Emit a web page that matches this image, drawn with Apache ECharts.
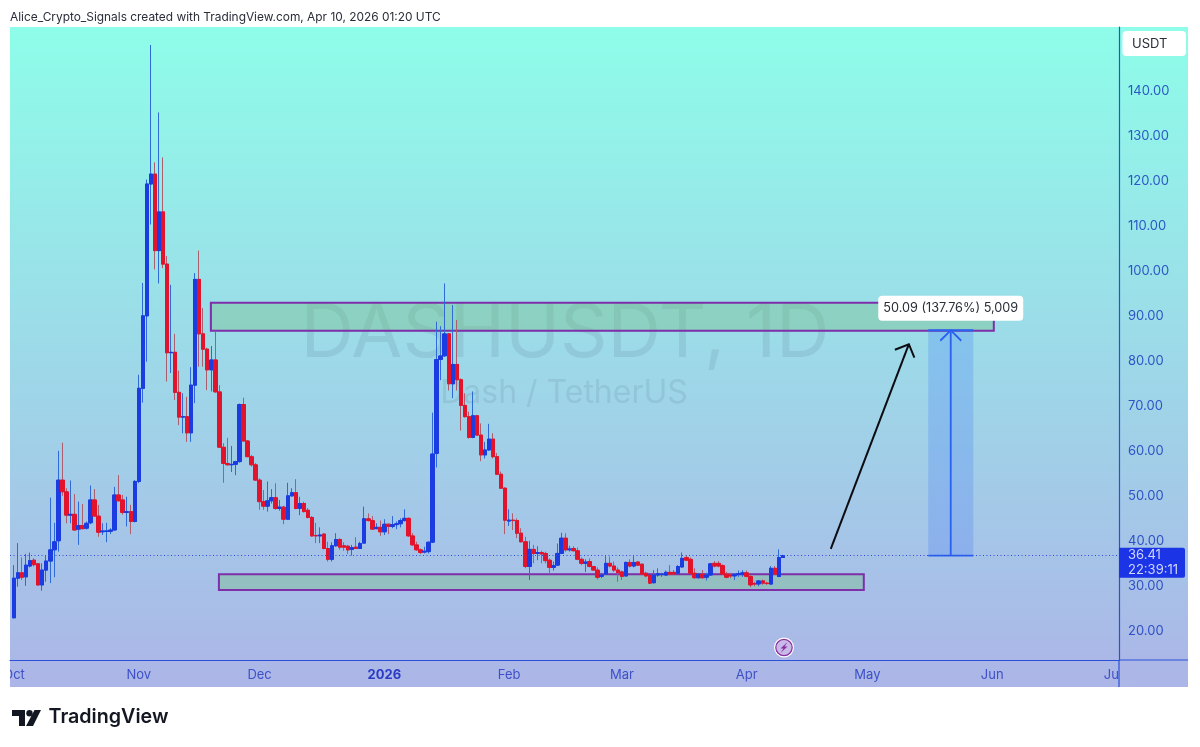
<!DOCTYPE html>
<html>
<head>
<meta charset="utf-8">
<title>DASHUSDT, 1D</title>
<style>
  html, body { margin: 0; padding: 0; background: #fff; }
  #chart { width: 1200px; height: 747px; }
</style>
</head>
<body>
<div id="chart"></div>
<script src="https://cdn.jsdelivr.net/npm/echarts@6/dist/echarts.min.js"></script>
<script>
// daily candles, day 0 = Oct 1 2025, last one = Apr 10 2026
const opens = [
  22.6,31.4,32.6,31.7,34.1,35.4,34.6,29.9,33.2,35.2,
  37.7,39.7,53.2,50.6,45.4,45.6,42.3,43.1,42.5,43.7,
  48.8,45.2,41.7,41.8,41.8,42.1,49.9,48.8,46,46.2,
  44,52.9,73.6,89.7,119,121.2,104.2,112.8,101.2,81.5,
  81.6,72.7,67.2,67.3,63.7,74.3,97.8,85.7,82.3,77.7,
  79.9,72.8,60.5,56.9,56.6,56.7,57.3,70,61.9,58.4,
  56.6,53.2,48.4,47.4,48.6,49.3,46.9,47.2,44.5,49.7,
  50.4,46.9,48,46.5,44.9,40.9,40.8,41.2,38,35.6,
  38.6,40,38.6,38.5,37.8,38.3,38,39.2,44.6,44.2,
  42.4,42.7,41.7,43.4,42.9,43.3,43.5,44.2,44.7,40.8,
  38.8,37.7,37.2,37.3,39.4,59.1,80,80.8,85.7,74.6,
  78.9,75.5,69.8,67.3,62.7,67.5,63.2,58.8,59.9,62.3,
  58.4,54.5,51.4,44.1,44.3,44.2,41.4,39.5,34,37.8,
  36.9,37.1,36.9,35.4,33.8,34.3,36.9,40.3,37.7,38,
  37.5,35.6,34.7,35.1,34,33.2,31.8,32.3,34.7,34.1,
  33.2,32.8,31.9,34.9,34.1,35,34.5,32.5,32,30.4,
  32.1,32.2,32.1,32.7,32.7,32.5,33.9,36,35.6,32.5,
  31.5,32.3,31.6,32.1,34.7,34.7,34.2,32.3,32.1,31.9,
  32.2,32.2,32.6,31.8,30.2,30.1,30.8,30.3,30.1,33.6,
  31.8,36
]
const closes = [
  31.4,32.6,31.6,34.3,35.3,34.4,29.9,33.2,35.2,37.7,
  39.5,53.2,50.6,45.4,45.6,42.1,43.1,42.4,43.6,48.8,
  45.2,41.6,41.9,41.9,42.1,49.9,48.6,46,46.2,44,
  52.9,73.6,89.7,119,121.2,104.2,112.8,101.2,81.5,81.6,
  72.7,67.2,67.3,63.7,74.3,97.8,85.7,82.3,77.7,79.9,
  72.8,60.5,56.9,56.6,56.7,57.3,70,61.9,58.4,56.6,
  53.2,48.4,47.4,48.6,49.3,46.9,47.2,44.5,49.7,50.4,
  46.9,48,46.2,44.9,40.8,40.8,41,38,35.6,38.6,
  40,38.3,38.3,37.7,38.2,38,39.1,44.6,44.2,42.3,
  42.7,41.7,43.4,42.9,43.3,43.5,44.2,44.7,40.8,38.8,
  37.7,37.1,37.4,39.4,59,80,80.8,85.7,74.6,78.9,
  75.5,69.8,67.3,62.7,67.5,63.2,58.8,59.9,62.3,58.4,
  54.5,51.4,44.3,44.3,44.2,41.4,39.5,34,37.8,36.9,
  37.1,36.8,35.3,33.8,34.2,36.9,40.3,37.7,37.9,37.5,
  35.6,34.7,35,34,33.2,31.6,32.1,34.7,34.1,33.2,
  32.6,31.8,34.9,34.1,34.9,34.3,32.3,31.9,30.3,32.1,
  32.4,32.3,32.7,32.3,32.3,34,35.8,35.4,32.5,31.5,
  32.3,31.5,32.1,34.6,34.1,34.1,32.3,31.6,31.9,32.2,
  32.4,32.6,31.8,29.9,30.1,30.8,30.3,30.2,33.6,32.3,
  36,36.41
]
const lows = [
  22.5,29.5,31,29.7,33.8,34,29.7,28.6,30.6,30.3,
  31.6,37.3,49.7,43.6,43.6,42,38.8,42.3,42.2,43.4,
  45.1,40.6,41,39.4,41.2,42,48.4,45.5,42.9,41.2,
  43.8,52.5,70.4,79.5,110,100,96.9,100.3,75.1,77,
  71,65.4,63.6,61.7,61.7,70.3,78.4,78.4,73.2,72.9,
  72.6,60.3,52.6,56.4,55,54.3,57.1,61.7,58.3,56.2,
  53,46.6,46.6,46.2,48,46.6,46.4,43.4,44.4,49.5,
  46.7,45.4,46,44.7,40.6,39.2,39.2,37.8,35.1,35.1,
  38.4,37.7,37.5,36.8,36.4,38,37.9,39.1,44,42.1,
  42.3,40.8,41,41.2,42.5,42.3,42.7,44,40.6,38.6,
  37.5,36.8,36.9,36.9,39.2,56,75.4,80.6,73.1,71.4,
  73.1,64.2,67.1,62.4,62.5,63,57.4,58,59.7,58,
  54.3,51.2,41.2,43,42.1,40.3,39.3,33.6,31,34.7,
  35.4,34.7,34.7,32.3,33.1,34.1,36.9,37.3,37.3,37.3,
  35.4,34.3,32.8,33.8,33.1,31.1,31.4,32.1,33.8,32.8,
  30.6,31,31.7,33.8,33.8,34.1,32.1,31.6,30.1,30.2,
  31.7,31.7,31.9,32.1,32.1,32.3,33.7,35.2,32.3,31.3,
  31.3,31.3,30.9,31.9,33.8,33.8,32.1,31.4,31.4,31,
  31.7,31.7,31.6,29.4,29.6,29.6,29.9,29.9,29.9,32.1,
  31.6,35.9
]
const highs = [
  34.3,39.2,36,36.8,37.1,35.8,34.7,34.7,36.5,49.3,
  43.7,59.7,61.5,51.4,53.1,50.1,48.4,47.9,44,52,
  51.2,47.7,43.6,43.7,42.5,51.7,54.3,49.9,49.5,47.7,
  53.2,76.6,97,120,149.9,123.8,134.9,124.9,103,96.6,
  85.7,77.5,72.5,71.7,78.3,99.2,104.2,91.4,82.6,83,
  86.2,74.3,61.4,62.6,60.8,57.5,70.2,71.5,62.1,58.8,
  57,53.6,51,52.9,51.2,52.5,48.8,47.5,52.6,51.4,
  53.4,49.5,48.4,47,45.2,43.7,42.7,41.4,39.5,39.4,
  41.4,40.3,39.4,38.8,38.8,40.5,39.5,47.3,45.8,45.2,
  43.6,44.2,44.5,43.5,45.2,44,44.7,46.7,44.9,41.4,
  39.5,38,38.4,39.5,68.2,88.4,87.4,96.9,85.8,92.1,
  88.8,75.8,72.5,68.4,72.9,67.7,65.8,61.7,65.7,63.6,
  59.2,55.1,51.6,46.7,45.8,44.7,42.5,40.6,39.7,38.8,
  38.5,37.5,37.3,35.8,35.1,39.1,41.5,41.4,38.6,38.5,
  38.2,36,35.6,35.8,34.1,33.8,32.6,36.3,36.2,35.1,
  33.8,33.1,35.1,35.6,36.3,35.2,34.7,32.8,32.1,33.2,
  33.6,32.6,33.1,34.3,33.2,34.3,37.1,36.5,36,33.6,
  32.5,33.2,32.6,34.8,35.2,35.2,34.5,32.8,32.6,32.5,
  33.1,33.2,33.1,32.1,30.6,31,31.1,30.6,34.1,34.1,
  37.8,36.6
]

const monthDays = [0, 31, 61, 92, 123, 151, 182, 212, 243, 273]
const monthLabels = ['Oct', 'Nov', 'Dec', '2026', 'Feb', 'Mar', 'Apr', 'May', 'Jun', 'Jul']
const priceTicks = [20, 30, 40, 50, 60, 70, 80, 90, 100, 110, 120, 130, 140]

const lastPrice = 36.41
const countdown = '22:39:11'
const measureTop = 86.5
const measureLabel = '50.09 (137.76%) 5,009'

const upperZone = [48.9, 243.4, 86.4, 92.6]  // day from, day to, price from, price to
const lowerZone = [50.9, 211.1, 28.8, 32.3]
const measureDays = [227.1, 238.3, 232.7]    // left, right, centre
const trendArrow = [202.9, 37.9, 222.3, 83.4] // day, price -> day, price

const FONT = 'Inter, "Noto Sans", sans-serif'
const UP = '#1a3ce0'
const DOWN = '#e3132b'
const AXIS_BLUE = '#2b50d8'

// wicks and bodies are two layers, the wicks are paler than the bodies in the original
const wicks = opens.map((o, i) => [i, o, closes[i], lows[i], highs[i]])
const bodies = opens.map((o, i) => [i, o, closes[i], Math.min(o, closes[i]), Math.max(o, closes[i])])

function renderZone(api, zone) {
  const a = api.coord([zone[0], zone[3]])
  const b = api.coord([zone[1], zone[2]])
  return {
    type: 'rect',
    shape: { x: a[0], y: a[1], width: b[0] - a[0], height: b[1] - a[1] },
    style: { fill: 'rgba(115,190,130,0.38)', stroke: '#7d2ea8', lineWidth: 2 }
  }
}

function renderZones(params, api) {
  return { type: 'group', children: [renderZone(api, upperZone), renderZone(api, lowerZone)] }
}

function renderDrawings(params, api) {
  const left = api.coord([measureDays[0], measureTop])
  const right = api.coord([measureDays[1], lastPrice])
  const tip = api.coord([measureDays[2], measureTop])
  const foot = api.coord([measureDays[2], lastPrice])
  const from = api.coord([trendArrow[0], trendArrow[1]])
  const to = api.coord([trendArrow[2], trendArrow[3]])
  const blue = { stroke: '#2a62f0', lineWidth: 1.8, fill: null }
  const black = { stroke: '#0c0c12', lineWidth: 2, fill: null }
  return {
    type: 'group',
    children: [
      {
        type: 'rect',
        shape: { x: left[0], y: left[1], width: right[0] - left[0], height: right[1] - left[1] },
        style: { fill: 'rgba(41,98,255,0.2)' }
      },
      { type: 'line', shape: { x1: tip[0], y1: tip[1], x2: foot[0], y2: foot[1] }, style: blue },
      { type: 'line', shape: { x1: left[0], y1: left[1], x2: right[0], y2: left[1] }, style: blue },
      { type: 'line', shape: { x1: left[0], y1: right[1], x2: right[0], y2: right[1] }, style: blue },
      {
        type: 'polyline',
        shape: { points: [[tip[0] - 10.5, tip[1] + 10.5], tip, [tip[0] + 10.5, tip[1] + 10.5]] },
        style: blue
      },
      { type: 'line', shape: { x1: from[0], y1: from[1], x2: to[0], y2: to[1] }, style: black },
      {
        type: 'polyline',
        shape: { points: [[to[0] - 14, to[1] + 5.5], to, [to[0] + 5.5, to[1] + 13.5]] },
        style: black
      },
      {
        type: 'text',
        style: {
          text: measureLabel,
          x: tip[0],
          y: tip[1] - 22,
          align: 'center',
          verticalAlign: 'middle',
          font: '12.7px ' + FONT,
          fill: '#2a2e39',
          backgroundColor: '#fff',
          padding: [6, 5, 6, 5],
          borderRadius: 4
        }
      }
    ]
  }
}

const background = new echarts.graphic.LinearGradient(0, 0, 0, 1, [
  { offset: 0, color: '#8efde9' },
  { offset: 1, color: '#acb5e7' }
])

const chart = echarts.init(document.getElementById('chart'), null, { renderer: 'canvas' })

chart.setOption({
  animation: false,
  backgroundColor: '#fff',
  textStyle: { fontFamily: FONT },
  grid: { left: 10, right: 81, top: 27, bottom: 87, containLabel: false },
  xAxis: {
    type: 'value',
    min: -1,
    max: 274.5,
    splitLine: { show: false },
    axisLine: { onZero: false, lineStyle: { color: AXIS_BLUE, width: 1.2 } },
    axisTick: { show: false },
    axisLabel: {
      customValues: monthDays,
      showMinLabel: true,
      showMaxLabel: true,
      hideOverlap: false,
      margin: 9,
      fontSize: 13,
      color: '#3d50c8',
      fontFamily: FONT,
      rich: { year: { fontSize: 13, fontWeight: 700, color: '#2a3cc4', fontFamily: FONT } },
      formatter(value) {
        const label = monthLabels[monthDays.indexOf(value)]
        return label === '2026' ? '{year|2026}' : label
      }
    }
  },
  yAxis: {
    type: 'value',
    position: 'right',
    min: 13.22,
    max: 153.89,
    splitLine: { show: false },
    axisLine: { show: true, onZero: false, lineStyle: { color: AXIS_BLUE, width: 1.2 } },
    axisTick: { show: false },
    axisLabel: {
      customValues: priceTicks,
      margin: 9,
      rich: {
        price: {
          padding: [3, 0, 0, 0],
          fontSize: 13,
          fontFamily: FONT,
          color: 'rgba(25,60,190,0.85)'
        }
      },
      formatter: value => '{price|' + value.toFixed(2) + '}'
    }
  },
  series: [
    {
      type: 'custom',
      z: 1,
      silent: true,
      clip: false,
      renderItem: renderZones,
      data: [[0, lastPrice]],
      encode: { x: 0, y: 1 }
    },
    {
      type: 'candlestick',
      z: 2,
      barWidth: 3,
      data: wicks,
      encode: { x: 0, y: [1, 2, 3, 4] },
      itemStyle: { color: '#2f6bd6', color0: '#ab5f6e', borderColor: '#2f6bd6', borderColor0: '#ab5f6e', borderWidth: 1 },
      markLine: {
        silent: true,
        symbol: 'none',
        animation: false,
        lineStyle: { color: '#2a4de0', type: [1, 2.5], width: 1 },
        label: {
          position: 'end',
          distance: 0,
          formatter: lastPrice.toFixed(2) + '\n' + countdown,
          backgroundColor: '#1a34e6',
          color: '#cfd6ff',
          fontFamily: FONT,
          fontSize: 13,
          lineHeight: 14.5,
          align: 'left',
          padding: [1, 7, 0, 9],
          borderRadius: [0, 2, 2, 0],
          offset: [0, 7]
        },
        data: [{ yAxis: lastPrice }]
      }
    },
    {
      type: 'candlestick',
      z: 2.5,
      barWidth: 4,
      data: bodies,
      encode: { x: 0, y: [1, 2, 3, 4] },
      itemStyle: { color: UP, color0: DOWN, borderColor: UP, borderColor0: DOWN, borderWidth: 1 }
    },
    {
      type: 'custom',
      z: 3,
      silent: true,
      clip: false,
      renderItem: renderDrawings,
      data: [[0, lastPrice]],
      encode: { x: 0, y: 1 }
    }
  ],
  graphic: [
    { type: 'rect', z: -2, shape: { x: 10, y: 27, width: 1178, height: 660 }, style: { fill: background } },
    {
      type: 'text', z: -1, x: 565, y: 335,
      style: { text: 'DASHUSDT, 1D', align: 'center', verticalAlign: 'middle', font: '74px ' + FONT, fill: 'rgba(70,95,115,0.13)' }
    },
    {
      type: 'text', z: -1, x: 564, y: 393,
      style: { text: 'Dash / TetherUS', align: 'center', verticalAlign: 'middle', font: '32px ' + FONT, fill: 'rgba(70,95,115,0.13)' }
    },
    // labels are cut by the pane edges in the original
    { type: 'rect', z: 100, shape: { x: 0, y: 661, width: 10, height: 30 }, style: { fill: '#fff' } },
    { type: 'rect', z: 100, shape: { x: 1120, y: 661, width: 14, height: 26 }, style: { fill: '#acb6e7' } },
    { type: 'line', z: 101, shape: { x1: 1119, y1: 660, x2: 1119, y2: 687 }, style: { stroke: AXIS_BLUE, lineWidth: 1.2 } },
    { type: 'line', z: 101, shape: { x1: 1119, y1: 660, x2: 1188, y2: 660 }, style: { stroke: AXIS_BLUE, lineWidth: 1.2 } },
    {
      type: 'text', z: 101, x: 10, y: 17,
      style: {
        text: 'Alice_Crypto_Signals created with TradingView.com, Apr 10, 2026 01:20 UTC',
        verticalAlign: 'middle', font: '11.9px ' + FONT, fill: '#2a2e39'
      }
    },
    { type: 'rect', z: 101, shape: { x: 1122.5, y: 31, width: 63.5, height: 25, r: 4 }, style: { fill: '#fff' } },
    {
      type: 'text', z: 102, x: 1132, y: 44,
      style: { text: 'USDT', verticalAlign: 'middle', font: '13px ' + FONT, fill: '#2a2e39' }
    },
    // lightning badge
    { type: 'circle', z: 101, shape: { cx: 784, cy: 647.5, r: 10 }, style: { fill: '#fff' } },
    { type: 'circle', z: 102, shape: { cx: 784, cy: 647.5, r: 8.2 }, style: { fill: '#c7b9e8', stroke: '#8a2fa0', lineWidth: 1.2 } },
    {
      type: 'polygon', z: 103,
      shape: { points: [[787.5, 642], [780.5, 648.5], [783.5, 648.5], [780.5, 653], [787.5, 646.5], [784.5, 646.5]] },
      style: { fill: '#8a2fa0' }
    },
    // TradingView logo
    {
      type: 'polygon', z: 101,
      shape: { points: [[12, 710], [25, 710], [25, 726], [19, 726], [19, 716], [12, 716]] },
      style: { fill: '#131722' }
    },
    { type: 'circle', z: 101, shape: { cx: 29.5, cy: 713.2, r: 3.2 }, style: { fill: '#131722' } },
    {
      type: 'polygon', z: 101,
      shape: { points: [[34.5, 710], [41, 710], [33, 726], [26, 726]] },
      style: { fill: '#131722' }
    },
    {
      type: 'text', z: 101, x: 48.5, y: 717.5,
      style: { text: 'TradingView', verticalAlign: 'middle', font: '600 19.7px ' + FONT, fill: '#131722' }
    }
  ]
})
</script>
</body>
</html>
